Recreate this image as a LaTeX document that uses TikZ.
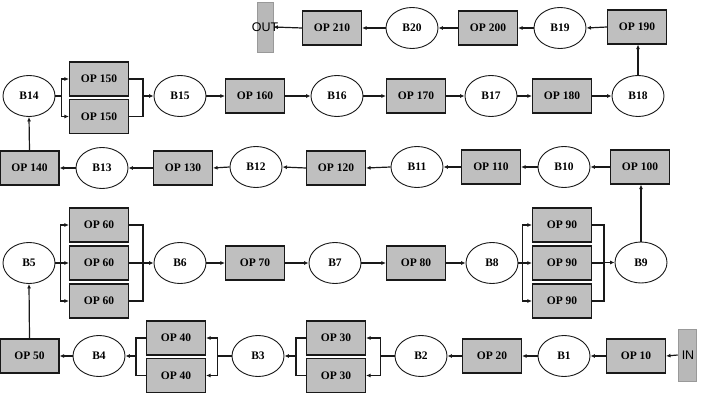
\documentclass[tikz,border=0pt]{standalone}
\usepackage{fontspec}
\setmainfont{Liberation Serif}
\newfontfamily\arialfont{Liberation Sans}
\usetikzlibrary{shapes.geometric,arrows.meta}
\definecolor{opgray}{RGB}{191,191,191}
\definecolor{bargray}{RGB}{184,184,184}
\definecolor{linecol}{RGB}{25,25,25}
\tikzset{
  op/.style={draw=linecol, fill=opgray, line width=1.1pt, minimum width=59pt, minimum height=34pt, inner sep=0pt, font=\fontsize{11.5}{13}\selectfont\bfseries},
  buf/.style={ellipse, draw=linecol, fill=white, line width=0.9pt, minimum width=52pt, minimum height=41pt, inner sep=0pt, font=\fontsize{11.5}{13}\selectfont\bfseries},
  bar/.style={draw=black!40, fill=bargray, line width=0.6pt, inner sep=0pt},
  bartext/.style={font=\arialfont\fontsize{12.5}{14}\selectfont, inner sep=0pt, text=black},
  arr/.style={-{Latex[length=4.5pt,width=4pt]}, line width=1.2pt, draw=linecol},
  ln/.style={line width=1.2pt, draw=linecol}
}
\begin{document}
\begin{tikzpicture}[x=1pt,y=-1pt]
\useasboundingbox (0,0) rectangle (703,403);
% ---------- Row 1 ----------
\node[bar, minimum width=16pt, minimum height=50pt] (outbar) at (265,27) {};
\node[op] (op210) at (332,28) {OP 210};
\node[buf] (b20) at (412,28) {B20};
\node[op] (op200) at (488,28) {OP 200};
\node[buf] (b19) at (560,28) {B19};
\node[op] (op190) at (637,27) {OP 190};
% ---------- Row 2 ----------
\node[buf] (b14) at (29,96) {B14};
\node[op] (op150a) at (99,79) {OP 150};
\node[op] (op150b) at (99,116.5) {OP 150};
\node[buf] (b15) at (180,96) {B15};
\node[op] (op160) at (255,96) {OP 160};
\node[buf] (b16) at (337,96) {B16};
\node[op] (op170) at (416,96) {OP 170};
\node[buf] (b17) at (491,96) {B17};
\node[op] (op180) at (562,96) {OP 180};
\node[buf] (b18) at (638,96) {B18};
% ---------- Row 3 ----------
\node[op] (op140) at (29.5,168) {OP 140};
\node[buf] (b13) at (102,168) {B13};
\node[op] (op130) at (183,168) {OP 130};
\node[buf] (b12) at (256,167) {B12};
\node[op] (op120) at (336,168) {OP 120};
\node[buf] (b11) at (417,167) {B11};
\node[op] (op110) at (491,167) {OP 110};
\node[buf] (b10) at (564,167) {B10};
\node[op] (op100) at (640,167) {OP 100};
% ---------- Row 4 ----------
\node[buf] (b5) at (29,263) {B5};
\node[op] (op60a) at (99,225) {OP 60};
\node[op] (op60b) at (99,263) {OP 60};
\node[op] (op60c) at (99,301) {OP 60};
\node[buf] (b6) at (180,263) {B6};
\node[op] (op70) at (255,263) {OP 70};
\node[buf] (b7) at (335,263) {B7};
\node[op] (op80) at (416,263) {OP 80};
\node[buf] (b8) at (492,263) {B8};
\node[op] (op90a) at (562,225) {OP 90};
\node[op] (op90b) at (562,263) {OP 90};
\node[op] (op90c) at (562,301) {OP 90};
\node[buf] (b9) at (641,262.5) {B9};
% ---------- Row 5 ----------
\node[op] (op50) at (29.5,356) {OP 50};
\node[buf] (b4) at (99,356) {B4};
\node[op] (op40a) at (176,338) {OP 40};
\node[op] (op40b) at (176,375.5) {OP 40};
\node[buf] (b3) at (258,356) {B3};
\node[op] (op30a) at (336,338) {OP 30};
\node[op] (op30b) at (336,375.5) {OP 30};
\node[buf] (b2) at (421,356) {B2};
\node[op] (op20) at (492,356) {OP 20};
\node[buf] (b1) at (564,356) {B1};
\node[op] (op10) at (636,356) {OP 10};
\node[bar, minimum width=18pt, minimum height=52pt] (inbar) at (687,355) {};
\node[bartext] (intxt) at (688,355) {IN};
% ---------- Connectors row 5 (right to left) ----------
\draw[arr] (inbar.west) -- (op10.east);
\draw[arr] (op10.west) -- (b1.east);
\draw[arr] (b1.west) -- (op20.east);
\draw[arr] (op20.west) -- (b2.east);
\draw[arr] (b2.west) -- ++(-14,0) |- (op30a.east);
\draw[arr] (b2.west) -- ++(-14,0) |- (op30b.east);
\draw[ln] (op30a.west) -- ++(-10,0) |- (op30b.west);
\draw[arr] ([xshift=-10pt]op30a.west |- b3.east) -- (b3.east);
\draw[arr] (b3.west) -- ++(-14,0) |- (op40a.east);
\draw[arr] (b3.west) -- ++(-14,0) |- (op40b.east);
\draw[ln] (op40a.west) -- ++(-10,0) |- (op40b.west);
\draw[arr] ([xshift=-10pt]op40a.west |- b4.east) -- (b4.east);
\draw[arr] (b4.west) -- (op50.east);
\draw[arr] (op50.north) -- (b5.south);
% ---------- Connectors row 4 ----------
\draw[arr] (b5.east) -- ++(5,0) |- (op60a.west);
\draw[arr] (b5.east) -- (op60b.west);
\draw[arr] (b5.east) -- ++(5,0) |- (op60c.west);
\draw[ln] (op60a.east) -- ++(14,0) |- (op60c.east);
\draw[ln] (op60b.east) -- ++(14,0);
\draw[arr] ([xshift=14pt]op60a.east |- b6.west) -- (b6.west);
\draw[arr] (b6.east) -- (op70.west);
\draw[arr] (op70.east) -- (b7.west);
\draw[arr] (b7.east) -- (op80.west);
\draw[arr] (op80.east) -- (b8.west);
\draw[arr] (b8.east) -- ++(4,0) |- (op90a.west);
\draw[arr] (b8.east) -- (op90b.west);
\draw[arr] (b8.east) -- ++(4,0) |- (op90c.west);
\draw[ln] (op90a.east) -- ++(12,0) |- (op90c.east);
\draw[ln] (op90b.east) -- ++(12,0);
\draw[arr] ([xshift=12pt]op90a.east |- b9.west) -- (b9.west);
\draw[arr] (b9.north) -- (b9.north |- op100.south);
% ---------- Connectors row 3 (right to left) ----------
\draw[arr] (op100.west) -- (b10.east);
\draw[arr] (b10.west) -- (op110.east);
\draw[arr] (op110.west) -- (b11.east);
\draw[arr] (b11.west) -- (op120.east);
\draw[arr] (op120.west) -- (b12.east);
\draw[arr] (b12.west) -- (op130.east);
\draw[arr] (op130.west) -- (b13.east);
\draw[arr] (b13.west) -- (op140.east);
\draw[arr] (op140.north) -- (b14.south);
% ---------- Connectors row 2 ----------
\draw[arr] (b14.east) -- ++(6,0) |- (op150a.west);
\draw[arr] (b14.east) -- ++(6,0) |- (op150b.west);
\draw[ln] (op150a.east) -- ++(14,0) |- (op150b.east);
\draw[arr] ([xshift=14pt]op150a.east |- b15.west) -- (b15.west);
\draw[arr] (b15.east) -- (op160.west);
\draw[arr] (op160.east) -- (b16.west);
\draw[arr] (b16.east) -- (op170.west);
\draw[arr] (op170.east) -- (b17.west);
\draw[arr] (b17.east) -- (op180.west);
\draw[arr] (op180.east) -- (b18.west);
\draw[arr] (b18.north) -- (b18.north |- op190.south);
% ---------- Connectors row 1 (right to left) ----------
\draw[arr] (op190.west) -- (b19.east);
\draw[arr] (b19.west) -- (op200.east);
\draw[arr] (op200.west) -- (b20.east);
\draw[arr] (b20.west) -- (op210.east);
\draw[arr] (op210.west) -- (outbar.east);
\node[bartext] (outtxt) at (265,27) {OUT};
\end{tikzpicture}
\end{document}
